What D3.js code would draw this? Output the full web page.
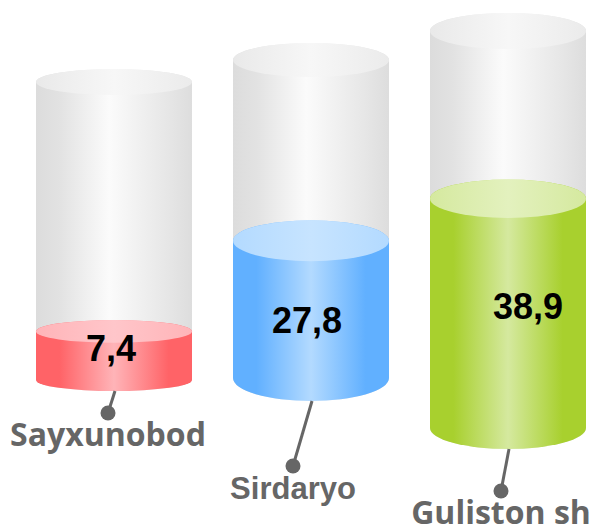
<!DOCTYPE html>
<html>
<head>
<meta charset="utf-8">
<script src="https://cdn.jsdelivr.net/npm/d3@7/dist/d3.min.js"></script>
<style>
  body { margin: 0; background: #fff; }
</style>
</head>
<body>
<div id="chart"></div>
<script>
// data
const categories = ["Sayxunobod", "Sirdaryo", "Guliston sh"];
const values = [7.4, 27.8, 38.9];
const valueLabels = ["7,4", "27,8", "38,9"];

// colours for each cylinder
const edgeColors = ["#ff6367", "#61b0ff", "#a8d02e"];
const midColors = ["#ffb4b8", "#b3daff", "#d5e99f"];
const topColors = ["#ffc6ca", "#c7e4ff", "#e3f1be"];

// 3d-ish perspective layout (bottom/top of each cylinder, ellipse heights)
const bottomY = [380, 378, 428];
const topY = [82, 60, 31];
const ryTop = [13, 17, 18];
const ryBottom = [11, 23, 21];
const leaderDx = [-7, -19, -8];
const leaderLen = [22, 65, 42];
const labelShift = [-3, -4, 20];
const labelDy = [-7, 11, -7];
const labelFonts = ["'Open Sans', sans-serif", "'Liberation Sans', Arial, sans-serif", "'Open Sans', sans-serif"];

const width = 595;
const height = 527;
const rx = 78;

const svg = d3
  .select("#chart")
  .append("svg")
  .attr("width", width)
  .attr("height", height);

const x = d3.scalePoint().domain(categories).range([114, 508]);

const defs = svg.append("defs");

function addGradient(id, stops) {
  const g = defs
    .append("linearGradient")
    .attr("id", id)
    .attr("x1", "0%")
    .attr("x2", "100%")
    .attr("y1", "0%")
    .attr("y2", "0%");
  stops.forEach(([o, c]) => {
    g.append("stop").attr("offset", o).attr("stop-color", c);
  });
}

addGradient("graySide", [
  ["0%", "#dcdcdc"],
  ["15%", "#e2e2e2"],
  ["47%", "#fbfbfb"],
  ["85%", "#e6e6e6"],
  ["100%", "#dddddd"],
]);
addGradient("grayTop", [
  ["0%", "#e9e9e9"],
  ["50%", "#f7f7f7"],
  ["100%", "#ebebeb"],
]);
categories.forEach((c, i) => {
  addGradient("side" + i, [
    ["0%", edgeColors[i]],
    ["15%", edgeColors[i]],
    ["50%", midColors[i]],
    ["85%", edgeColors[i]],
    ["100%", edgeColors[i]],
  ]);
  addGradient("top" + i, [
    ["0%", midColors[i]],
    ["50%", topColors[i]],
    ["100%", midColors[i]],
  ]);
});

function sidePath(cx, yT, ryT, yB, ryB) {
  return `M${cx - rx},${yT} L${cx - rx},${yB} A${rx},${ryB} 0 0 0 ${cx + rx},${yB} L${cx + rx},${yT} A${rx},${ryT} 0 0 0 ${cx - rx},${yT} Z`;
}

categories.forEach((cat, i) => {
  const cx = x(cat);
  // value -> y for this cylinder
  const y = d3.scaleLinear().domain([-5, 71]).range([bottomY[i], topY[i]]);
  const ry = d3.scaleLinear().domain([topY[i], bottomY[i]]).range([ryTop[i], ryBottom[i]]);
  const g = svg.append("g").attr("class", "cylinder");

  // gray track
  g.append("path")
    .attr("d", sidePath(cx, topY[i], ryTop[i], bottomY[i], ryBottom[i]))
    .attr("fill", "url(#graySide)");
  g.append("ellipse")
    .attr("cx", cx)
    .attr("cy", topY[i])
    .attr("rx", rx)
    .attr("ry", ryTop[i])
    .attr("fill", "url(#grayTop)");

  // filled part
  const yv = y(values[i]);
  g.append("path")
    .attr("d", sidePath(cx, yv, ry(yv), bottomY[i], ryBottom[i]))
    .attr("fill", `url(#side${i})`);
  g.append("ellipse")
    .attr("cx", cx)
    .attr("cy", yv)
    .attr("rx", rx)
    .attr("ry", ry(yv))
    .attr("fill", `url(#top${i})`);

  // value label
  g.append("text")
    .attr("x", cx + labelShift[i])
    .attr("y", (yv + bottomY[i]) / 2 + labelDy[i])
    .attr("dy", "0.35em")
    .attr("text-anchor", "middle")
    .attr("font-family", "'Liberation Sans', Arial, sans-serif")
    .attr("font-weight", "bold")
    .attr("font-size", "36px")
    .attr("fill", "#000")
    .text(valueLabels[i]);

  // leader + category label
  const lx0 = cx + 1;
  const ly0 = bottomY[i] + ryBottom[i];
  const lx1 = lx0 + leaderDx[i];
  const ly1 = ly0 + leaderLen[i];
  g.append("line")
    .attr("x1", lx0)
    .attr("y1", ly0)
    .attr("x2", lx1)
    .attr("y2", ly1)
    .attr("stroke", "#666")
    .attr("stroke-width", 3);
  g.append("circle")
    .attr("cx", lx1)
    .attr("cy", ly1)
    .attr("r", 7.5)
    .attr("fill", "#666");
  g.append("text")
    .attr("x", lx1)
    .attr("y", ly1 + 33)
    .attr("text-anchor", "middle")
    .attr("font-family", labelFonts[i])
    .attr("font-weight", "bold")
    .attr("font-size", i === 1 ? "31px" : "32px")
    .attr("fill", "#666")
    .text(cat);
});
</script>
</body>
</html>
